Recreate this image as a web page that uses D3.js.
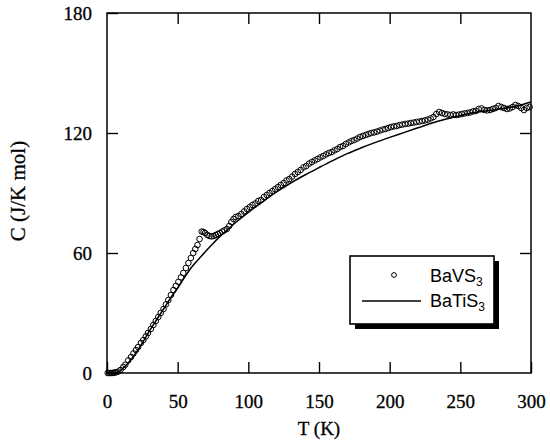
<!DOCTYPE html>
<html>
<head>
<meta charset="utf-8">
<script src="https://cdn.jsdelivr.net/npm/d3@7/dist/d3.min.js"></script>
<style>
  body { margin: 0; background: #fff; }
  svg { display: block; }
</style>
</head>
<body>
<svg id="chart" width="550" height="444"></svg>
<script>
// BaVS3 measured points, temperature (K) and heat capacity (J/K mol)
var bavsT = [0.5, 1.5, 2.5, 3.5, 4.5, 5.5, 6.5, 8, 9.5, 11.5, 13, 15, 17, 18.7, 20.5, 22, 24, 25.7, 27.5, 29,
	31, 32.8, 34.5, 36.3, 38, 40, 41.7, 43.4, 45.2, 47, 48.7, 50.5, 52.3, 54, 55.8, 57.6, 59.3, 61, 62.5, 64,
	65.5, 67, 68.3, 69.4, 71, 72.5, 74, 75.5, 77, 78.5, 80, 81.5, 83, 84.8, 86.5, 88, 89.5, 91, 93, 95,
	97, 99, 101, 103, 105, 107, 109, 111, 113, 115, 117, 119, 121, 123, 125, 127, 129, 131, 133, 135,
	137, 139, 141, 143, 145, 147, 149, 151, 153, 155, 157, 159, 161, 163, 165, 167, 169, 171, 173, 175,
	177, 179, 181, 183, 185, 187, 189, 191, 193, 195, 197, 199, 201, 203, 205, 207, 209, 211, 213, 215,
	217, 219, 221, 223, 225, 227, 229, 231, 233, 235, 237, 239, 241, 243, 245, 247, 249, 251, 253, 255,
	257, 259, 261, 263, 265, 267, 269, 271, 273, 275, 277, 279, 281, 283, 285, 287, 289, 291, 293, 295,
	297, 299];
var bavsC = [0, 0, 0, 0, 0.1, 0.2, 0.4, 0.7, 1.5, 3.0, 4.2, 6.3, 8, 9.8, 11.5, 13, 15, 16.5, 18.3, 20,
	22, 24, 26, 28, 30, 32, 34.3, 36.5, 39, 41.5, 43.5, 45.6, 47.8, 50, 52.5, 55, 57.5, 60, 62, 64,
	67, 70.7, 70.5, 70, 69, 68.5, 68.3, 68.5, 69, 69.5, 70, 70.7, 71.3, 72, 73.5, 75.5, 77, 78, 78.5, 79.5,
	80.8, 82, 83, 84, 84.8, 86, 86.5, 88, 89, 90, 91, 92, 93, 94, 95, 96.3, 97, 98.2, 99.5, 100.5,
	101.5, 102.8, 103.5, 104.7, 105.5, 106.3, 107, 107.8, 108.5, 109.3, 110, 110.5, 111.3, 112, 113, 113.5, 114.5, 115.3, 116, 116.5,
	117.2, 118, 118.5, 119, 119.5, 120, 120.3, 120.7, 121.2, 121.7, 122, 122.5, 123, 123.3, 123.5, 124, 124.2, 124.5, 124.7, 125,
	125.2, 125.5, 125.7, 126, 126.3, 126.7, 127.3, 128, 129.5, 130.5, 130, 129.5, 129.3, 129, 129.3, 129, 129.2, 129.5, 129.8, 130,
	130.3, 130.8, 131, 132, 132.3, 131.5, 131.3, 131.5, 132, 132.5, 133.5, 133, 132.5, 132, 132.3, 133, 134, 133.5, 132.5, 131.5,
	132.5, 133];

// BaTiS3 curve
var batiT = [0, 5, 8, 10, 15, 20, 25, 30, 35, 40, 45, 50, 55, 60, 65, 70, 75, 80, 85, 90,
	95, 100, 110, 120, 130, 140, 150, 160, 170, 180, 190, 200, 210, 220, 230, 240, 250, 260, 270, 280, 290, 300];
var batiC = [0, 0, 0.5, 1.5, 5, 9.5, 15, 21, 26.5, 32, 37.5, 42.5, 48, 53, 57, 61, 64.8, 68.3, 71.5, 74.6,
	77.5, 80.3, 85.5, 90.5, 95, 99, 102.7, 106.3, 109.7, 112.6, 115.3, 117.8, 120.2, 122.6, 125, 127, 128.8, 130.2, 131.2, 132.2, 133.5, 135.5];

var xTicks = [0, 50, 100, 150, 200, 250, 300];
var yTicks = [0, 60, 120, 180];
var seriesNames = ["BaVS", "BaTiS"];

var svg = d3.select("#chart"),
	margin = {top: 13, right: 19, bottom: 71, left: 107},
	width = +svg.attr("width") - margin.left - margin.right,
	height = +svg.attr("height") - margin.top - margin.bottom,
	g = svg.append("g").attr("transform", "translate(" + margin.left + "," + margin.top + ")");

var x = d3.scaleLinear().domain([0, 300]).range([0, width]);
var y = d3.scaleLinear().domain([0, 180]).range([height, 0]);

var serif = "'Liberation Serif', 'Times New Roman', serif",
	sans = "'Liberation Sans', Arial, sans-serif",
	tick = 11;

// axes with inward ticks on all four sides
g.append("g")
	.attr("transform", "translate(0," + height + ")")
	.call(d3.axisBottom(x).tickValues(xTicks).tickSizeInner(-tick).tickSizeOuter(0).tickPadding(22))
	.call(function(a) { a.select(".domain").remove(); });
g.append("g")
	.call(d3.axisTop(x).tickValues(xTicks.slice(1, -1)).tickSizeInner(-tick).tickSizeOuter(0).tickFormat(""))
	.call(function(a) { a.select(".domain").remove(); });
g.append("g")
	.call(d3.axisLeft(y).tickValues(yTicks).tickSizeInner(-tick).tickSizeOuter(0).tickPadding(15))
	.call(function(a) { a.select(".domain").remove(); });
g.append("g")
	.attr("transform", "translate(" + width + ",0)")
	.call(d3.axisRight(y).tickValues(yTicks.slice(1, -1)).tickSizeInner(-tick).tickSizeOuter(0).tickFormat(""))
	.call(function(a) { a.select(".domain").remove(); });

g.selectAll(".tick line").attr("stroke", "#000").attr("stroke-width", 1.4);
g.selectAll(".tick text")
	.attr("fill", "#000")
	.attr("stroke", "#000")
	.attr("stroke-width", 0.3)
	.style("font-family", serif)
	.style("font-size", "19px");

g.append("rect")
	.attr("width", width)
	.attr("height", height)
	.attr("fill", "none")
	.attr("stroke", "#000")
	.attr("stroke-width", 1.5);

// axis titles
svg.append("text")
	.attr("x", margin.left + width / 2)
	.attr("y", 435)
	.attr("text-anchor", "middle")
	.attr("stroke", "#000")
	.attr("stroke-width", 0.3)
	.style("font-family", serif)
	.style("font-size", "19px")
	.text("T (K)");
svg.append("text")
	.attr("transform", "translate(25," + (margin.top + height / 2 - 2) + ") rotate(-90)")
	.attr("text-anchor", "middle")
	.attr("stroke", "#000")
	.attr("stroke-width", 0.3)
	.style("font-family", serif)
	.style("font-size", "21px")
	.text("C (J/K mol)");

// BaTiS3 line
var line = d3.line()
	.x(function(d) { return x(d[0]); })
	.y(function(d) { return y(d[1]); })
	.curve(d3.curveMonotoneX);
g.append("path")
	.datum(d3.zip(batiT, batiC))
	.attr("d", line)
	.attr("fill", "none")
	.attr("stroke", "#000")
	.attr("stroke-width", 1.5);

// BaVS3 circles
g.append("g")
	.selectAll("circle")
	.data(d3.zip(bavsT, bavsC))
	.enter().append("circle")
		.attr("cx", function(d) { return x(d[0]); })
		.attr("cy", function(d) { return y(d[1]); })
		.attr("r", 2.8)
		.attr("fill", "none")
		.attr("stroke", "#000")
		.attr("stroke-width", 1);

// legend with drop shadow
var lg = svg.append("g").attr("transform", "translate(350,256)");
lg.append("rect").attr("x", 5).attr("y", 5).attr("width", 144).attr("height", 68).attr("fill", "#000");
lg.append("rect").attr("width", 144).attr("height", 68).attr("fill", "#fff").attr("stroke", "#000").attr("stroke-width", 1.6);
lg.append("circle").attr("cx", 44).attr("cy", 19).attr("r", 2.4).attr("fill", "none").attr("stroke", "#000").attr("stroke-width", 1);
lg.append("line").attr("x1", 12).attr("x2", 71).attr("y1", 45).attr("y2", 45).attr("stroke", "#000").attr("stroke-width", 1.3);

seriesNames.forEach(function(name, i) {
	var t = lg.append("text")
		.attr("x", 80)
		.attr("y", 26 + i * 25)
		.style("font-family", sans)
		.style("font-size", "18px")
		.text(name);
	t.append("tspan")
		.attr("dy", 4)
		.style("font-size", "12px")
		.text("3");
});
</script>
</body>
</html>
